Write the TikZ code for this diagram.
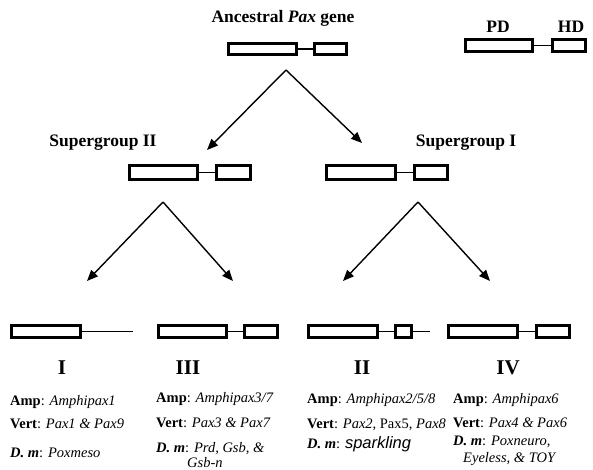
\documentclass[tikz,border=0pt]{standalone}
\usepackage{fontspec}
\setmainfont{Liberation Serif}
\newfontfamily\sparkfont{Liberation Sans}
\usetikzlibrary{arrows.meta}
\tikzset{
  box/.style={draw, line width=2.8pt, inner sep=0pt, minimum height=12.2pt},
  link/.style={line width=1.9pt},
  arr/.style={line width=1.4pt, -{Triangle[length=11pt,width=9pt]}},
  head/.style={font=\fontsize{17.5}{20}\selectfont\bfseries, inner sep=0pt},
  numeral/.style={font=\fontsize{21}{24}\selectfont\bfseries, inner sep=0pt},
  info/.style={font=\fontsize{14.5}{17}\selectfont, inner sep=0pt, anchor=base west},
}
\newcommand{\bi}[1]{\textbf{\textit{#1}}}
\begin{document}
\begin{tikzpicture}[x=1pt,y=-1pt]
\useasboundingbox (0,0) rectangle (593,470);
% headings
\node[head, anchor=base] (anc) at (283,23) {Ancestral \textit{Pax} gene};
\node[head, anchor=base] (pdl) at (498,33) {PD};
\node[head, anchor=base] (hdl) at (571,33) {HD};
\node[head, anchor=base] (sg2) at (103,147) {Supergroup II};
\node[head, anchor=base] (sg1) at (466,147) {Supergroup I};
% ancestral gene
\node[box, minimum width=68.2pt, minimum height=11.2pt] (apd) at (262.5,49) {};
\node[box, minimum width=32.2pt, minimum height=11.2pt] (ahd) at (330.5,49) {};
\draw[link] (apd.east) -- (ahd.west);
% legend gene
\node[box, minimum width=67.2pt] (lpd) at (499,45.5) {};
\node[box, minimum width=33.2pt] (lhd) at (569,45.5) {};
\draw[link] (lpd.east) -- (lhd.west);
% supergroup II gene
\node[box, minimum width=68.2pt, minimum height=14.2pt] (spd2) at (163.5,172.5) {};
\node[box, minimum width=34.2pt, minimum height=14.2pt] (shd2) at (233.5,172.5) {};
\draw[link] (spd2.east) -- (shd2.west);
% supergroup I gene
\node[box, minimum width=69.2pt, minimum height=14.2pt] (spd1) at (361,172.5) {};
\node[box, minimum width=33.2pt, minimum height=14.2pt] (shd1) at (431,172.5) {};
\draw[link] (spd1.east) -- (shd1.west);
% group I gene
\node[box, minimum width=69.2pt] (gpd1) at (46,331.5) {};
\coordinate (gend1) at (133,331.5);
\draw[link] (gpd1.east) -- (gend1);
% group III gene
\node[box, minimum width=68.2pt] (gpd3) at (192.5,331.5) {};
\node[box, minimum width=33.2pt] (ghd3) at (261,331.5) {};
\draw[link] (gpd3.east) -- (ghd3.west);
% group II gene
\node[box, minimum width=69.2pt] (gpd2) at (343,331.5) {};
\node[box, minimum width=16.2pt] (ghd2) at (403.5,331.5) {};
\coordinate (gend2) at (430,331.5);
\draw[link] (gpd2.east) -- (ghd2.west);
\draw[link] (ghd2.east) -- (gend2);
% group IV gene
\node[box, minimum width=69.2pt] (gpd4) at (483,331.5) {};
\node[box, minimum width=33.2pt] (ghd4) at (553,331.5) {};
\draw[link] (gpd4.east) -- (ghd4.west);
% arrows
\coordinate (top) at (286,70);
\coordinate (ltop) at (163,202);
\coordinate (rtop) at (418,202);
\coordinate (t2) at (207,150);
\coordinate (t1) at (362,143);
\coordinate (tI) at (87,281);
\coordinate (tIII) at (233,281);
\coordinate (tII) at (343,281);
\coordinate (tIV) at (490,281);
\draw[arr] (top) -- (t2);
\draw[arr] (top) -- (t1);
\draw[arr] (ltop) -- (tI);
\draw[arr] (ltop) -- (tIII);
\draw[arr] (rtop) -- (tII);
\draw[arr] (rtop) -- (tIV);
% numerals
\node[numeral, anchor=base] (nI) at (62,374) {I};
\node[numeral, anchor=base] (nIII) at (188,374) {III};
\node[numeral, anchor=base] (nII) at (362,374) {II};
\node[numeral, anchor=base] (nIV) at (508,374) {IV};
% column I
\node[info] (a1) at (10,405) {\textbf{Amp}: \textit{Amphipax1}};
\node[info] (v1) at (10,428) {\textbf{Vert}: \textit{Pax1} \textit{\&} \textit{Pax9}};
\node[info] (d1) at (10,457) {\bi{D. m}: \textit{Poxmeso}};
% column III
\node[info] (a3) at (156,402) {\textbf{Amp}: \textit{Amphipax3/7}};
\node[info] (v3) at (156,427) {\textbf{Vert}: \textit{Pax3} \textit{\&} \textit{Pax7}};
\node[info] (d3) at (156,452) {\bi{D. m}: \textit{Prd, Gsb, \&}};
\node[info] (d3b) at (187,467) {\textit{Gsb-n}};
% column II
\node[info] (a2) at (307,403) {\textbf{Amp}: \textit{Amphipax2/5/8}};
\node[info] (v2) at (307,428) {\textbf{Vert}: \textit{Pax2}, Pax5, \textit{Pax8}};
\node[info] (d2) at (307,448) {\bi{D. m}: {\sparkfont\itshape\fontsize{16.5}{18}\selectfont sparkling}};
% column IV
\node[info] (a4) at (453,403) {\textbf{Amp}: \textit{Amphipax6}};
\node[info] (v4) at (453,427) {\textbf{Vert}: \textit{Pax4} \textit{\&} \textit{Pax6}};
\node[info] (d4) at (453,445) {\bi{D. m}: \textit{Poxneuro,}};
\node[info] (d4b) at (463,462) {\textit{Eyeless, \& TOY}};
\end{tikzpicture}
\end{document}
